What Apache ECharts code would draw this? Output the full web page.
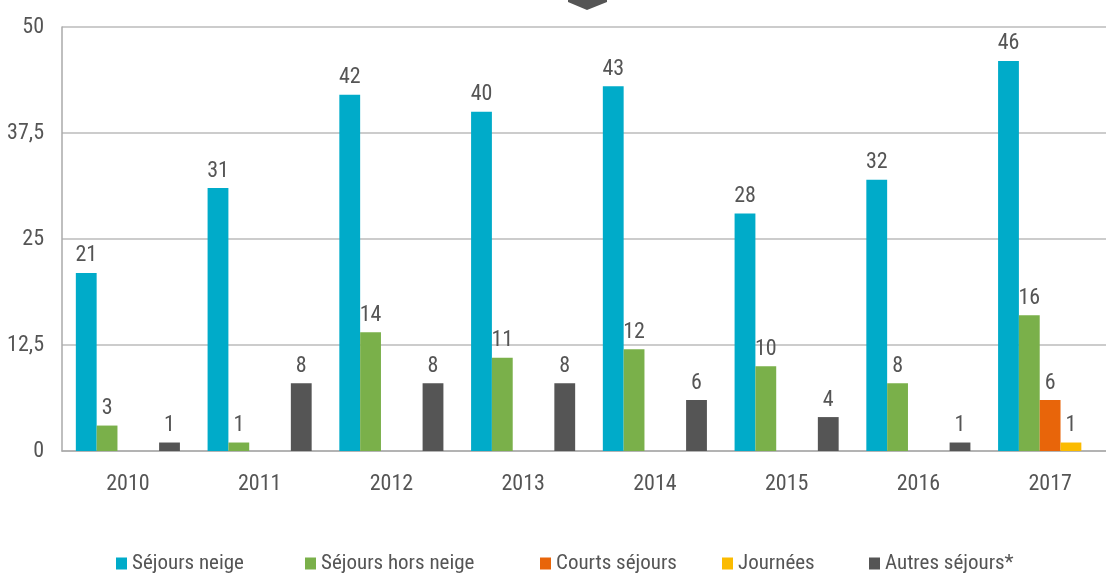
<!DOCTYPE html>
<html>
<head>
<meta charset="utf-8">
<script src="https://cdn.jsdelivr.net/npm/echarts@6/dist/echarts.min.js"></script>
<style>
html,body{margin:0;padding:0;background:#fff;}
#chart{width:1106px;height:574px;}
</style>
</head>
<body>
<div id="chart"></div>
<script>
var annees = ['2010','2011','2012','2013','2014','2015','2016','2017'];
var sejoursNeige = [21, 31, 42, 40, 43, 28, 32, 46];
var sejoursHorsNeige = [3, 1, 14, 11, 12, 10, 8, 16];
var courtsSejours = [null, null, null, null, null, null, null, 6];
var journees = [null, null, null, null, null, null, null, 1];
var autresSejours = [1, 8, 8, 8, 6, 4, 1, null];
var ticksY = [0, 12.5, 25, 37.5, 50];

var police = "'Roboto Condensed', 'DejaVu Sans Condensed', sans-serif";
var gris = '#555555';

var noms = ['Séjours neige','Séjours hors neige','Courts séjours','Journées','Autres séjours*'];
var couleurs = ['#00abc9','#7ab04a','#e8650a','#fbbb00','#555555'];
var valeurs = [sejoursNeige, sejoursHorsNeige, courtsSejours, journees, autresSejours];
var legendeX = [116, 305, 540, 722, 869];

var myChart = echarts.init(document.getElementById('chart'));

var series = [];
var legendes = [];
for (var i = 0; i < noms.length; i++) {
	series.push({
		name: noms[i],
		type: 'bar',
		data: valeurs[i],
		barGap: 0,
		barCategoryGap: '21%',
		itemStyle: { color: couleurs[i] },
		label: {
			show: true,
			position: 'top',
			distance: 6,
			color: gris,
			fontFamily: police,
			fontSize: 22
		}
	});
	legendes.push({
		data: [noms[i]],
		left: legendeX[i],
		top: 553,
		padding: 0,
		icon: 'rect',
		itemWidth: 11,
		itemHeight: 12,
		textStyle: { color: gris, fontFamily: police, fontSize: 21 },
		selectedMode: false
	});
}

var option = {
	animation: false,
	grid: { left: 62, top: 27, width: 1054, height: 424, outerBoundsMode: 'none' },
	legend: legendes,
	xAxis: {
		type: 'category',
		data: annees,
		axisLine: { lineStyle: { color: '#aaaaaa', width: 1.5 } },
		axisTick: { show: false },
		axisLabel: { color: gris, fontFamily: police, fontSize: 22, margin: 22 }
	},
	yAxis: {
		type: 'value',
		min: 0,
		max: 50,
		interval: 12.5,
		axisLine: { show: true, lineStyle: { color: '#aaaaaa', width: 1.5 } },
		axisTick: { show: false },
		splitLine: { lineStyle: { color: '#bbbbbb', width: 1.5 } },
		axisLabel: {
			color: gris, fontFamily: police, fontSize: 22, margin: 18,
			formatter: function (v) { return ticksY.indexOf(v) >= 0 ? String(v).replace('.', ',') : ''; }
		}
	},
	graphic: [{
		type: 'polygon',
		shape: { points: [[568, 0], [607, 0], [607, 2], [587, 10], [568, 2]] },
		style: { fill: '#555555' }
	}],
	series: series
};
myChart.setOption(option);
</script>
</body>
</html>
